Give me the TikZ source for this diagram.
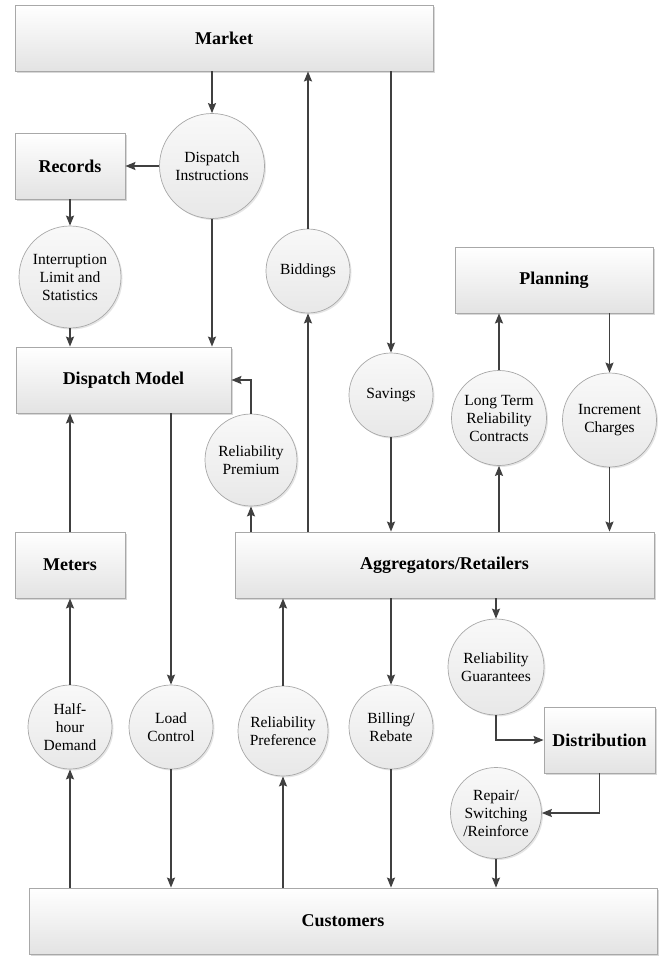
\documentclass[tikz,border=0pt]{standalone}
\usepackage{fontspec}
\setmainfont{Liberation Serif}
\usetikzlibrary{arrows.meta,shadows,shapes.geometric}
\definecolor{arrowc}{HTML}{404040}
\definecolor{edgec}{HTML}{A8A8A8}
\tikzset{
  boxnode/.style={rectangle, draw=edgec, line width=0.8pt, inner sep=0pt,
    top color=white, bottom color=gray!22, shading angle=0,
    drop shadow={shadow xshift=2pt, shadow yshift=-2pt, fill=black!30, opacity=0.5},
    font=\fontsize{18}{22}\selectfont\bfseries},
  bubble/.style={circle, draw=edgec, line width=0.7pt, inner sep=0pt, align=center,
    top color=white!95!gray, bottom color=gray!18,
    drop shadow={shadow xshift=1.5pt, shadow yshift=-1.5pt, fill=black!25, opacity=0.4},
    font=\fontsize{15.5}{18}\selectfont},
  arr/.style={draw=arrowc, line width=1.5pt, -{Stealth[length=10pt,width=8pt,inset=1.5pt]}},
  plain/.style={draw=arrowc, line width=1.5pt}
}
\begin{document}
\begin{tikzpicture}[x=1pt,y=-1pt]
\useasboundingbox (0,0) rectangle (670,956);
% boxes
\node[boxnode, minimum width=418pt, minimum height=66pt] (market) at (224,38) {Market};
\node[boxnode, minimum width=110pt, minimum height=66pt] (records) at (70,166) {Records};
\node[boxnode, minimum width=215pt, minimum height=66pt] (dispmodel) at (123.5,380) {Dispatch Model};
\node[boxnode, minimum width=110pt, minimum height=66pt] (meters) at (70,565) {Meters};
\node[boxnode, minimum width=198pt, minimum height=66pt] (planning) at (554,280) {Planning};
\node[boxnode, minimum width=419pt, minimum height=66pt] (agg) at (444.5,565) {Aggregators/Retailers};
\node[boxnode, minimum width=111pt, minimum height=66pt] (distribution) at (599.5,740) {Distribution};
\node[boxnode, minimum width=628pt, minimum height=66pt] (customers) at (343,921) {Customers};
% circles
\node[bubble, minimum size=105pt] (dispinst) at (212,166) {Dispatch\\Instructions};
\node[bubble, minimum size=102pt] (interrupt) at (70,277) {Interruption\\Limit and\\Statistics};
\node[bubble, minimum size=84pt] (biddings) at (308,271) {Biddings};
\node[bubble, minimum size=84pt] (savings) at (391,395) {Savings};
\node[bubble, minimum size=92pt] (relprem) at (251,460) {Reliability\\Premium};
\node[bubble, minimum size=95pt] (longterm) at (499,418) {Long Term\\Reliability\\Contracts};
\node[bubble, minimum size=94pt] (increment) at (609.5,420) {Increment\\Charges};
\node[bubble, minimum size=84pt] (halfhour) at (70,727) {Half-\\hour\\Demand};
\node[bubble, minimum size=84pt] (loadctrl) at (171,727) {Load\\Control};
\node[bubble, minimum size=90pt] (relpref) at (283,731) {Reliability\\Preference};
\node[bubble, minimum size=84pt] (billing) at (391,727) {Billing/\\Rebate};
\node[bubble, minimum size=96pt] (relguar) at (496,667) {Reliability\\Guarantees};
\node[bubble, minimum size=91pt] (repair) at (496,813) {Repair/\\Switching\\/Reinforce};
% connectors
\draw[arr] (market.south -| dispinst.north) -- (dispinst.north);
\draw[arr] (dispinst.west) -- (records.east);
\draw[arr] (records.south) -- (interrupt.north);
\draw[arr] (interrupt.south) -- (interrupt.south |- dispmodel.north);
\draw[arr] (dispinst.south) -- (dispinst.south |- dispmodel.north);
\draw[arr] (biddings.north) -- (biddings.north |- market.south);
\draw[arr] (agg.north -| biddings.south) -- (biddings.south);
\draw[arr] (market.south -| savings.north) -- (savings.north);
\draw[arr] (savings.south) -- (savings.south |- agg.north);
\draw[arr] (longterm.north) -- (longterm.north |- planning.south);
\draw[arr] (planning.south -| increment.north) -- (increment.north);
\draw[arr] (increment.south) -- (increment.south |- agg.north);
\draw[arr] (agg.north -| longterm.south) -- (longterm.south);
\draw[arr] (agg.north -| relprem.south) -- (relprem.south);
\draw[arr] (relprem.north) |- (dispmodel.east);
\draw[arr] (meters.north) -- (meters.north |- dispmodel.south);
\draw[arr] (halfhour.north) -- (halfhour.north |- meters.south);
\draw[arr] (customers.north -| halfhour.south) -- (halfhour.south);
\draw[arr] (dispmodel.south -| loadctrl.north) -- (loadctrl.north);
\draw[arr] (loadctrl.south) -- (loadctrl.south |- customers.north);
\draw[arr] (customers.north -| relpref.south) -- (relpref.south);
\draw[arr] (relpref.north) -- (relpref.north |- agg.south);
\draw[arr] (agg.south -| billing.north) -- (billing.north);
\draw[arr] (billing.south) -- (billing.south |- customers.north);
\draw[arr] (agg.south -| relguar.north) -- (relguar.north);
\draw[arr] (relguar.south) |- (distribution.west);
\draw[arr] (distribution.south) |- (repair.east);
\draw[arr] (repair.south) -- (repair.south |- customers.north);
\end{tikzpicture}
\end{document}
